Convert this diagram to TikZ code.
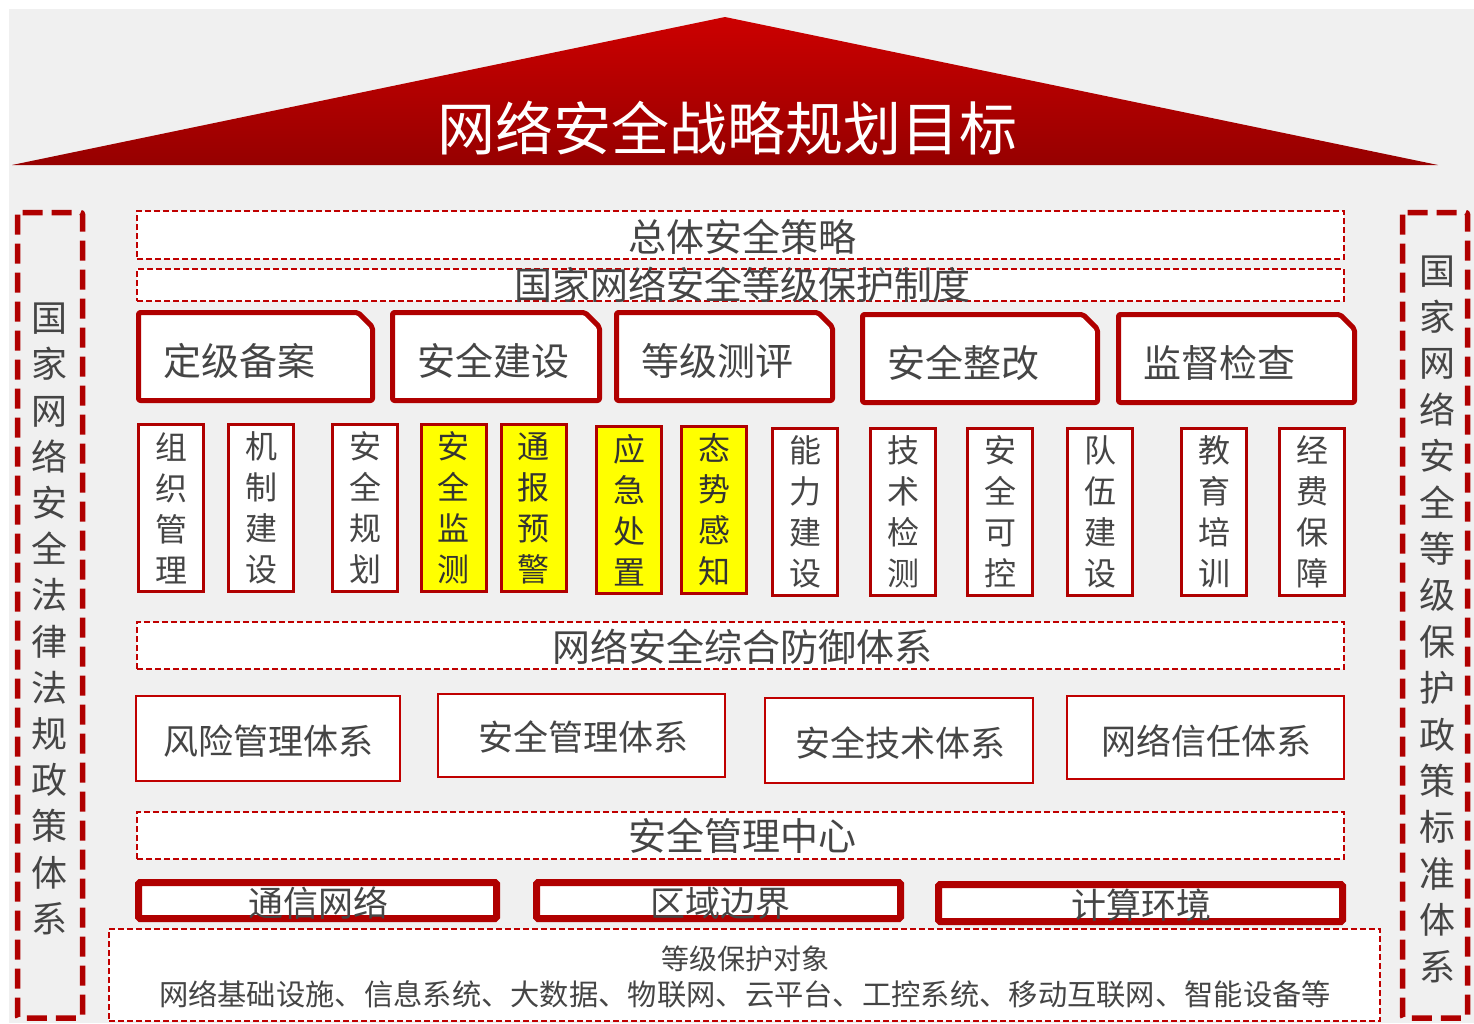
\documentclass[tikz,border=0pt]{standalone}
\usepackage{fontspec}
\setmainfont{Noto Sans CJK SC}
\definecolor{bggray}{HTML}{F0F0F0}
\definecolor{dred}{HTML}{B00000}
\definecolor{mred}{HTML}{C00000}
\definecolor{roofTop}{HTML}{CC0000}
\definecolor{roofBot}{HTML}{960000}
\definecolor{txtgray}{HTML}{454545}
\definecolor{hiyellow}{HTML}{FFFF00}
\newcommand\myfs[2]{\fontsize{#1pt}{#2pt}\selectfont}
\newcommand\mytab[6]{%
  \draw[tabline] (#2+2.5,#3+2.5) -- (#4-17,#3+2.5) -- (#4-2.5,#3+17) -- (#4-2.5,#5-2.5) -- (#2+2.5,#5-2.5) -- cycle;
  \node[tabtxt, anchor=west] (#1) at (#2+27,{(#3+#5)/2+4}) {#6};
}
\tikzset{
  txt/.style={text=txtgray, inner sep=0pt, outer sep=0pt},
  dbox/.style={draw=mred, line width=2pt, dash pattern=on 6pt off 3pt, fill=white, inner sep=0pt, outer sep=0pt},
  colbox/.style={draw=dred, line width=5.5pt, dash pattern=on 20pt off 9pt, rounded corners=2pt},
  tabline/.style={draw=dred, line width=5pt, fill=white, rounded corners=2pt, line join=round},
  tabtxt/.style={txt, font=\myfs{38}{40}},
  sbox/.style={draw=dred, line width=3pt, fill=white, minimum width=65pt, minimum height=167pt, inner sep=0pt, outer sep=0pt, align=center, text=txtgray, font=\myfs{32}{41}},
  ybox/.style={sbox, fill=hiyellow, text=black!80},
  fbox/.style={draw=mred, line width=1.6pt, fill=white, inner sep=0pt, outer sep=0pt},
  kbox/.style={draw=dred, line width=7pt, fill=white, inner sep=0pt, outer sep=0pt, rounded corners=1.5pt},
}
\begin{document}
\begin{tikzpicture}[x=1pt,y=-1pt]
\useasboundingbox (0,0) rectangle (1474,1023);
\fill[white] (0,0) rectangle (1474,1023);
\fill[bggray] (9,9) rectangle (1474,1023);

% roof
\shade[top color=roofTop, bottom color=roofBot] (12,165) -- (725,17) -- (1438,165) -- cycle;
\node[inner sep=0pt, text=white, font=\myfs{58}{60}] (title) at (727,128) {网络安全战略规划目标};

% side columns
\draw[colbox] (17.5,212.5) rectangle (82.5,1018);
\node[txt, align=center, font=\myfs{36}{46.2}] (lcol) at (49,619) {国\\家\\网\\络\\安\\全\\法\\律\\法\\规\\政\\策\\体\\系};
\draw[colbox] (1402.5,212.5) rectangle (1467.5,1018);
\node[txt, align=center, font=\myfs{36}{46.4}] (rcol) at (1437,619) {国\\家\\网\\络\\安\\全\\等\\级\\保\\护\\政\\策\\标\\准\\体\\系};

% dashed bands
\node[dbox, minimum width=1207pt, minimum height=48pt] (d1) at (740.5,235) {};
\node[txt, font=\myfs{38}{40}] (d1t) at (742,237) {总体安全策略};
\node[dbox, minimum width=1207pt, minimum height=32pt] (d2) at (740.5,285) {};
\node[txt, font=\myfs{38}{40}] (d2t) at (742,285) {国家网络安全等级保护制度};

% tabs
\mytab{t1}{136}{310}{375}{403}{定级备案}
\mytab{t2}{390}{310}{602}{403}{安全建设}
\mytab{t3}{614}{310}{835}{403}{等级测评}
\mytab{t4}{860}{312}{1100}{405}{安全整改}
\mytab{t5}{1116}{312}{1357}{405}{监督检查}

% small vertical boxes
\node[sbox] (s1) at (171,508) {组\\织\\管\\理};
\node[sbox] (s2) at (261,508) {机\\制\\建\\设};
\node[sbox] (s3) at (365,508) {安\\全\\规\\划};
\node[ybox] (s4) at (453.5,508) {安\\全\\监\\测};
\node[ybox] (s5) at (533.5,508) {通\\报\\预\\警};
\node[ybox] (s6) at (629,510) {应\\急\\处\\置};
\node[ybox] (s7) at (714,510) {态\\势\\感\\知};
\node[sbox] (s8) at (805,512) {能\\力\\建\\设};
\node[sbox] (s9) at (903,512) {技\\术\\检\\测};
\node[sbox] (s10) at (1000,512) {安\\全\\可\\控};
\node[sbox] (s11) at (1100,512) {队\\伍\\建\\设};
\node[sbox] (s12) at (1214,512) {教\\育\\培\\训};
\node[sbox] (s13) at (1312,512) {经\\费\\保\\障};

% defence system band
\node[dbox, minimum width=1207pt, minimum height=47pt] (d3) at (740.5,645.5) {};
\node[txt, font=\myfs{38}{40}] (d3t) at (742,647) {网络安全综合防御体系};

% four system boxes
\node[fbox, minimum width=264pt, minimum height=85pt] (f1) at (268,738.5) {};
\node[txt, font=\myfs{35}{38}] (f1t) at (268,741) {风险管理体系};
\node[fbox, minimum width=287pt, minimum height=83pt] (f2) at (581.5,735.5) {};
\node[txt, font=\myfs{35}{38}] (f2t) at (583,737) {安全管理体系};
\node[fbox, minimum width=268pt, minimum height=85pt] (f3) at (899,740.5) {};
\node[txt, font=\myfs{35}{38}] (f3t) at (900,743) {安全技术体系};
\node[fbox, minimum width=277pt, minimum height=83pt] (f4) at (1205.5,737.5) {};
\node[txt, font=\myfs{35}{38}] (f4t) at (1206,741) {网络信任体系};

% management centre band
\node[dbox, minimum width=1207pt, minimum height=47pt] (d4) at (740.5,835.5) {};
\node[txt, font=\myfs{38}{40}] (d4t) at (742,836) {安全管理中心};

% bottom protected objects
\node[dbox, minimum width=1271pt, minimum height=92pt] (d5) at (744.5,975) {};
\node[txt, font=\myfs{28}{30}] (d5a) at (745,959) {等级保护对象};
\node[txt, font=\myfs{29.3}{30}] (d5b) at (745,994) {网络基础设施、信息系统、大数据、物联网、云平台、工控系统、移动互联网、智能设备等};

% thick boxes
\node[kbox, minimum width=358pt, minimum height=36pt] (b1) at (317.5,900.5) {};
\node[txt, font=\myfs{35}{38}] (b1t) at (318,903) {通信网络};
\node[kbox, minimum width=364pt, minimum height=36pt] (b2) at (718.5,900.5) {};
\node[txt, font=\myfs{35}{38}] (b2t) at (720,903) {区域边界};
\node[kbox, minimum width=404pt, minimum height=37pt] (b3) at (1140.5,903) {};
\node[txt, font=\myfs{35}{38}] (b3t) at (1141,905) {计算环境};
\end{tikzpicture}
\end{document}
